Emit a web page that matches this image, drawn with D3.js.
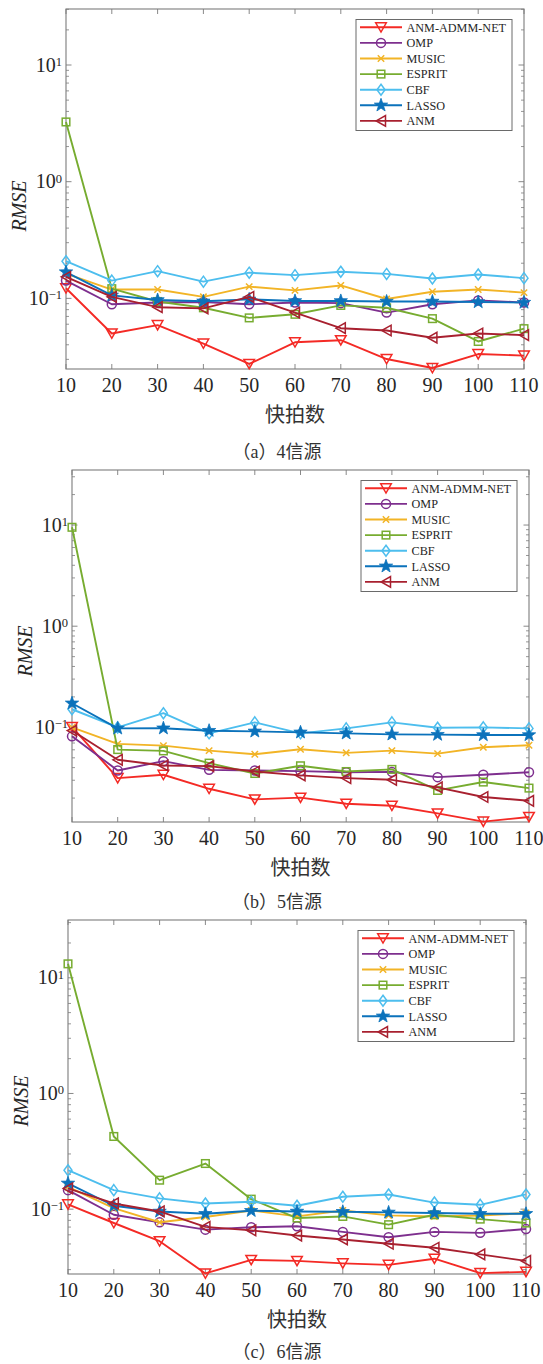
<!DOCTYPE html>
<html>
<head>
<meta charset="utf-8">
<script src="https://cdn.jsdelivr.net/npm/d3@7"></script>
<style>
  html, body { margin: 0; padding: 0; background: #fff; }
  svg { display: block; }
</style>
</head>
<body>
<svg id="fig" width="543" height="1364"></svg>
<script>
// ---- data ----
const snapshots = [10, 20, 30, 40, 50, 60, 70, 80, 90, 100, 110];
const methodNames = ["ANM-ADMM-NET", "OMP", "MUSIC", "ESPRIT", "CBF", "LASSO", "ANM"];
const yTickExponents = [-1, 0, 1];
const captions = ["（a）4信源", "（b）5信源", "（c）6信源"];
const xAxisTitle = "快拍数";
const yAxisTitle = "RMSE";
const yLimits = [[0.0248, 30.2], [0.0116, 35], [0.0275, 31.6]];

// 4 sources
const src4AnmAdmmNet = [0.122, 0.050, 0.059, 0.041, 0.0274, 0.042, 0.0438, 0.0302, 0.0253, 0.0333, 0.0323];
const src4Omp        = [0.142, 0.089, 0.092, 0.093, 0.089, 0.092, 0.091, 0.0755, 0.089, 0.096, 0.092];
const src4Music      = [0.163, 0.119, 0.119, 0.103, 0.126, 0.117, 0.129, 0.0987, 0.114, 0.119, 0.112];
const src4Esprit     = [3.25, 0.121, 0.094, 0.083, 0.068, 0.073, 0.087, 0.083, 0.067, 0.0427, 0.055];
const src4Cbf        = [0.208, 0.142, 0.171, 0.139, 0.166, 0.158, 0.169, 0.162, 0.148, 0.160, 0.149];
const src4Lasso      = [0.168, 0.106, 0.0968, 0.0943, 0.098, 0.095, 0.095, 0.094, 0.094, 0.093, 0.092];
const src4Anm        = [0.153, 0.103, 0.084, 0.082, 0.103, 0.0755, 0.0555, 0.053, 0.046, 0.050, 0.0484];

// 5 sources
const src5AnmAdmmNet = [0.101, 0.0315, 0.034, 0.0247, 0.0194, 0.0202, 0.0176, 0.0168, 0.0141, 0.0117, 0.0130];
const src5Omp        = [0.0815, 0.0375, 0.0463, 0.038, 0.0375, 0.0369, 0.036, 0.0363, 0.0322, 0.034, 0.036];
const src5Music      = [0.100, 0.0686, 0.066, 0.0589, 0.0542, 0.0608, 0.056, 0.0589, 0.055, 0.0636, 0.0666];
const src5Esprit     = [9.5, 0.0603, 0.0585, 0.0443, 0.035, 0.0417, 0.0366, 0.0384, 0.0238, 0.0288, 0.0251];
const src5Cbf        = [0.151, 0.100, 0.138, 0.0873, 0.112, 0.0873, 0.0977, 0.112, 0.099, 0.100, 0.0977];
const src5Lasso      = [0.173, 0.0977, 0.098, 0.0927, 0.0913, 0.0893, 0.0873, 0.0853, 0.0847, 0.084, 0.084];
const src5Anm        = [0.093, 0.0478, 0.042, 0.0414, 0.0366, 0.0335, 0.0315, 0.0303, 0.0255, 0.0205, 0.0188];

// 6 sources
const src6AnmAdmmNet = [0.110, 0.0759, 0.0528, 0.0278, 0.0364, 0.0357, 0.034, 0.033, 0.0373, 0.028, 0.0287];
const src6Omp        = [0.146, 0.0894, 0.0769, 0.0665, 0.0697, 0.0711, 0.0636, 0.0571, 0.0636, 0.0624, 0.0674];
const src6Music      = [0.156, 0.102, 0.077, 0.0855, 0.0974, 0.0865, 0.0974, 0.0883, 0.0865, 0.088, 0.0925];
const src6Esprit     = [13.2, 0.425, 0.178, 0.248, 0.122, 0.0838, 0.0865, 0.0734, 0.0894, 0.082, 0.0759];
const src6Cbf        = [0.217, 0.146, 0.124, 0.112, 0.116, 0.107, 0.128, 0.134, 0.114, 0.109, 0.134];
const src6Lasso      = [0.167, 0.107, 0.0955, 0.0912, 0.0968, 0.0955, 0.095, 0.0937, 0.0925, 0.0912, 0.0912];
const src6Anm        = [0.151, 0.112, 0.0955, 0.0702, 0.0656, 0.0591, 0.0547, 0.0502, 0.0464, 0.0406, 0.0357];

const panelSeries = [
  [src4AnmAdmmNet, src4Omp, src4Music, src4Esprit, src4Cbf, src4Lasso, src4Anm],
  [src5AnmAdmmNet, src5Omp, src5Music, src5Esprit, src5Cbf, src5Lasso, src5Anm],
  [src6AnmAdmmNet, src6Omp, src6Music, src6Esprit, src6Cbf, src6Lasso, src6Anm]
];

// ---- styles ----
const lineColors = ["#f42a25", "#7e2f8e", "#f2b426", "#77ac30", "#4dbeee", "#0b72bb", "#a8202f"];
const markerKinds = ["triDown", "circle", "cross", "square", "diamond", "star", "triLeft"];

// ---- layout ----
const panelBoxes = [
  { left: 66, right: 524, top: 9,   bottom: 369,  yTitleY: 206, captionDy: 89 },
  { left: 72, right: 529, top: 470, bottom: 822,  yTitleY: 651, captionDy: 86 },
  { left: 68, right: 526, top: 920, bottom: 1274, yTitleY: 1101, captionDy: 84 }
];

const serif = "'Liberation Serif', 'Times New Roman', serif";
const cjk = "'Liberation Serif', 'Noto Sans CJK SC', sans-serif";
const axisColor = "#7c7c7c";
const textColor = "#262626";

const svg = d3.select("#fig");

function starPath(rOut, rIn) {
  const pts = [];
  for (let i = 0; i < 10; i++) {
    const r = i % 2 === 0 ? rOut : rIn;
    const a = -Math.PI / 2 + i * Math.PI / 5;
    pts.push([r * Math.cos(a), r * Math.sin(a)]);
  }
  return "M" + pts.map(p => p[0].toFixed(2) + "," + p[1].toFixed(2)).join("L") + "Z";
}

function drawMarker(g, kind, color, x, y) {
  const m = g.append("g").attr("transform", `translate(${x},${y})`);
  const common = s => s.attr("fill", "none").attr("stroke", color).attr("stroke-width", 1.5);
  switch (kind) {
    case "triDown":
      common(m.append("path").attr("d", "M-5.3,-4.5L5.3,-4.5L0,4.8Z")); break;
    case "triLeft":
      common(m.append("path").attr("d", "M-4.8,0L4.5,-5.3L4.5,5.3Z")); break;
    case "circle":
      common(m.append("circle").attr("r", 4.5)); break;
    case "cross":
      common(m.append("path").attr("d", "M-3.2,-3.2L3.2,3.2M-3.2,3.2L3.2,-3.2")); break;
    case "square":
      common(m.append("rect").attr("x", -3.8).attr("y", -3.8).attr("width", 7.6).attr("height", 7.6)); break;
    case "diamond":
      common(m.append("path").attr("d", "M0,-5.5L4,0L0,5.5L-4,0Z")); break;
    case "star":
      m.append("path").attr("d", starPath(7, 2.8))
        .attr("fill", color).attr("stroke", color).attr("stroke-width", 0.8);
      break;
  }
}

panelBoxes.forEach((box, pi) => {
  const g = svg.append("g");
  const x = d3.scaleLinear().domain([10, 110]).range([box.left, box.right]);
  const y = d3.scaleLog().domain(yLimits[pi]).range([box.bottom, box.top]);

  // minor ticks of the log axis (left and right sides)
  const [lo, hi] = yLimits[pi];
  const minor = [];
  for (let e = Math.floor(Math.log10(lo)); e <= Math.ceil(Math.log10(hi)); e++) {
    for (let k = 2; k <= 9; k++) {
      const v = k * Math.pow(10, e);
      if (v > lo && v < hi) minor.push(v);
    }
  }
  minor.forEach(v => {
    const yy = y(v);
    g.append("line").attr("x1", box.left).attr("x2", box.left + 3).attr("y1", yy).attr("y2", yy)
      .attr("stroke", axisColor).attr("stroke-width", 0.8);
    g.append("line").attr("x1", box.right).attr("x2", box.right - 3).attr("y1", yy).attr("y2", yy)
      .attr("stroke", axisColor).attr("stroke-width", 0.8);
  });

  // major y ticks + labels
  yTickExponents.forEach(e => {
    const yy = y(Math.pow(10, e));
    g.append("line").attr("x1", box.left).attr("x2", box.left + 5.5).attr("y1", yy).attr("y2", yy)
      .attr("stroke", axisColor).attr("stroke-width", 0.9);
    g.append("line").attr("x1", box.right).attr("x2", box.right - 5.5).attr("y1", yy).attr("y2", yy)
      .attr("stroke", axisColor).attr("stroke-width", 0.9);
    const t = g.append("text")
      .attr("x", box.left - 4).attr("y", yy + 6.5)
      .attr("text-anchor", "end")
      .attr("font-family", serif).attr("font-size", 20).attr("fill", textColor);
    t.append("tspan").text("10");
    t.append("tspan").attr("dy", -5.5).attr("font-size", 12.5)
      .text(e < 0 ? "\u2212" + Math.abs(e) : String(e));
  });

  // x ticks (bottom and top) + labels
  snapshots.forEach(v => {
    const xx = x(v);
    g.append("line").attr("x1", xx).attr("x2", xx).attr("y1", box.bottom).attr("y2", box.bottom - 5)
      .attr("stroke", axisColor).attr("stroke-width", 0.9);
    g.append("line").attr("x1", xx).attr("x2", xx).attr("y1", box.top).attr("y2", box.top + 5)
      .attr("stroke", axisColor).attr("stroke-width", 0.9);
    g.append("text").attr("x", xx).attr("y", box.bottom + 23)
      .attr("text-anchor", "middle")
      .attr("font-family", serif).attr("font-size", 20).attr("fill", textColor)
      .text(v);
  });

  // axes box
  g.append("rect")
    .attr("x", box.left).attr("y", box.top)
    .attr("width", box.right - box.left).attr("height", box.bottom - box.top)
    .attr("fill", "none").attr("stroke", axisColor).attr("stroke-width", 1.1);

  // series lines and markers
  const line = d3.line().x((d, i) => x(snapshots[i])).y(d => y(d));
  panelSeries[pi].forEach((vals, si) => {
    g.append("path").datum(vals).attr("d", line)
      .attr("fill", "none").attr("stroke", lineColors[si]).attr("stroke-width", 1.9)
      .attr("stroke-linejoin", "round");
    vals.forEach((v, i) => drawMarker(g, markerKinds[si], lineColors[si], x(snapshots[i]), y(v)));
  });

  // axis titles
  g.append("text")
    .attr("transform", `translate(${box.left - 47},${box.yTitleY}) rotate(-90)`)
    .attr("text-anchor", "middle").attr("dy", "0.35em")
    .attr("font-family", serif).attr("font-style", "italic")
    .attr("font-size", 20).attr("fill", textColor)
    .text(yAxisTitle);

  g.append("text")
    .attr("x", (box.left + box.right) / 2).attr("y", box.bottom + 53)
    .attr("text-anchor", "middle")
    .attr("font-family", "'Noto Sans CJK SC', sans-serif").attr("font-size", 20)
    .attr("fill", "#333").text(xAxisTitle);

  g.append("text")
    .attr("x", 277).attr("y", box.bottom + box.captionDy)
    .attr("text-anchor", "middle")
    .attr("font-family", cjk).attr("font-size", 18)
    .attr("fill", "#333").text(captions[pi]);

  // legend
  const lw = 156, lh = 111;
  const lx = box.right - 12 - lw, ly = box.top + 10.5;
  const lg = g.append("g").attr("transform", `translate(${lx},${ly})`);
  lg.append("rect").attr("width", lw).attr("height", lh)
    .attr("fill", "#fff").attr("stroke", "#6a6a6a").attr("stroke-width", 1);
  methodNames.forEach((name, si) => {
    const ry = 7.8 + si * 15.6;
    lg.append("line").attr("x1", 4).attr("x2", 46).attr("y1", ry).attr("y2", ry)
      .attr("stroke", lineColors[si]).attr("stroke-width", 1.9);
    drawMarker(lg, markerKinds[si], lineColors[si], 25, ry);
    lg.append("text").attr("x", 50.5).attr("y", ry + 4.2)
      .attr("font-family", serif).attr("font-size", 12.2).attr("fill", textColor)
      .text(name);
  });
});
</script>
</body>
</html>
